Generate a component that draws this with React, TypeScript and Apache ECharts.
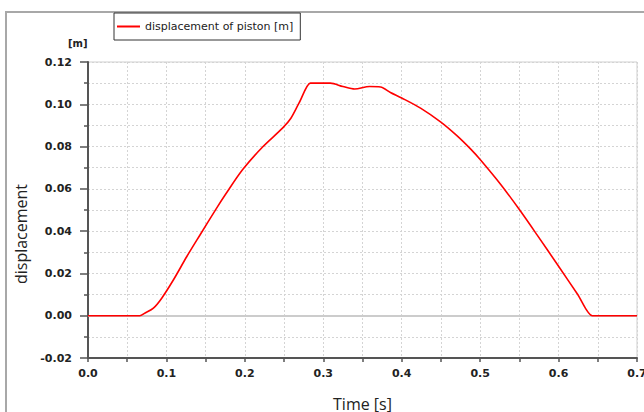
import React, { useEffect, useRef } from "react";
import * as echarts from "echarts";

const timeS = [0, 0.065, 0.066, 0.0728, 0.0834, 0.094, 0.109, 0.126, 0.143, 0.164, 0.175, 0.197, 0.2226, 0.248, 0.2587, 0.269, 0.2835, 0.2845, 0.309, 0.325, 0.34, 0.359, 0.373, 0.3856, 0.4, 0.424, 0.4495, 0.47, 0.488, 0.5, 0.526, 0.55, 0.573, 0.6, 0.624, 0.643, 0.644, 0.7];
const displacement = [0, 0, 0, 0.0013, 0.0036, 0.0083, 0.017, 0.028, 0.0383, 0.0509, 0.0572, 0.069, 0.0798, 0.0887, 0.0934, 0.1005, 0.11, 0.11, 0.11, 0.1084, 0.1072, 0.1084, 0.1082, 0.1056, 0.103, 0.0982, 0.0917, 0.0853, 0.0788, 0.0739, 0.0622, 0.0502, 0.038, 0.0234, 0.0103, 0, 0, 0];
const seriesName = "displacement of piston [m]";
const xAxisTitle = "Time [s]";
const yAxisTitle = "displacement";
const yUnit = "[m]";

export default function App() {
  const ref = useRef<HTMLDivElement>(null);
  useEffect(() => {
    if (!ref.current) return;
    const chart = echarts.init(ref.current, undefined, { renderer: "svg" });
    const data = timeS.map((t, i) => [t, displacement[i]]);
    const labelFont = "DejaVu Sans";
    chart.setOption({
      animation: false,
      backgroundColor: "#ffffff",
      textStyle: { fontFamily: "Open Sans" },
      grid: {
        left: 88,
        right: 7,
        top: 62,
        bottom: 54,
        show: true,
        borderColor: "#cfcfcf",
        borderWidth: 1,
        containLabel: false,
        outerBoundsMode: "none",
      },
      graphic: [
        {
          type: "rect",
          z: 0,
          silent: true,
          shape: { x: 6, y: 12, width: 700, height: 500 },
          style: { fill: "none", stroke: "#a8a8a8", lineWidth: 2 },
        },
        {
          type: "text",
          z: 10,
          x: 68,
          y: 38,
          style: { text: yUnit, fontFamily: labelFont, fontWeight: "bold", fontSize: 10, fill: "#222" },
        },
      ],
      legend: {
        left: 114,
        top: 13,
        padding: [7, 7, 7, 3],
        itemWidth: 23,
        itemHeight: 2,
        icon: "rect",
        borderColor: "#333",
        borderWidth: 1,
        borderRadius: 0,
        backgroundColor: "#fff",
        textStyle: { fontSize: 11, fontFamily: "DejaVu Sans", color: "#222", lineHeight: 13 },
        data: [seriesName],
      },
      xAxis: {
        type: "value",
        min: 0,
        max: 0.7,
        interval: 0.1,
        name: xAxisTitle,
        nameLocation: "middle",
        nameGap: 38,
        nameTextStyle: { fontSize: 16, fontFamily: "Open Sans", color: "#222" },
        axisLine: { show: true, onZero: false, lineStyle: { color: "#555", width: 2 } },
        axisTick: { show: true, length: 4, lineStyle: { color: "#555", width: 1.5 } },
        minorTick: { show: true, splitNumber: 2, length: 4, lineStyle: { color: "#555", width: 1.5 } },
        axisLabel: {
          margin: 10,
          fontFamily: labelFont,
          fontWeight: "bold",
          fontSize: 11,
          color: "#222",
          formatter: (v: number) => v.toFixed(1),
        },
        splitLine: { show: true, lineStyle: { color: "#d4d4d4", type: [2, 2], width: 1 } },
        minorSplitLine: { show: true, lineStyle: { color: "#d4d4d4", type: [2, 2], width: 1 } },
      },
      yAxis: {
        type: "value",
        min: -0.02,
        max: 0.12,
        interval: 0.02,
        name: yAxisTitle,
        nameLocation: "middle",
        nameGap: 56,
        nameTextStyle: { fontSize: 16, fontFamily: "Open Sans", color: "#222", padding: [0, 48, 0, 0] },
        axisLine: { show: true, onZero: false, lineStyle: { color: "#555", width: 2 } },
        axisTick: { show: true, length: 8, lineStyle: { color: "#555", width: 1.5 } },
        minorTick: { show: true, splitNumber: 2, length: 4, lineStyle: { color: "#555", width: 1.5 } },
        axisLabel: {
          margin: 16,
          fontFamily: labelFont,
          fontWeight: "bold",
          fontSize: 11,
          color: "#222",
          formatter: (v: number) => v.toFixed(2),
        },
        splitLine: { show: true, lineStyle: { color: "#d4d4d4", type: [2, 2], width: 1 } },
        minorSplitLine: { show: true, lineStyle: { color: "#d4d4d4", type: [2, 2], width: 1 } },
      },
      series: [
        {
          name: seriesName,
          type: "line",
          data,
          symbol: "none",
          smooth: 0.3,
          lineStyle: { color: "#ff0000", width: 1.6 },
          itemStyle: { color: "#ff0000" },
          markLine: {
            silent: true,
            symbol: "none",
            label: { show: false },
            lineStyle: { color: "#cccccc", width: 2, type: "solid" },
            data: [{ yAxis: 0 }],
            z: 1,
          },
        },
      ],
    });
    return () => chart.dispose();
  }, []);
  return <div ref={ref} style={{ position: "fixed", left: 0, top: 0, width: 644, height: 412 }} />;
}
